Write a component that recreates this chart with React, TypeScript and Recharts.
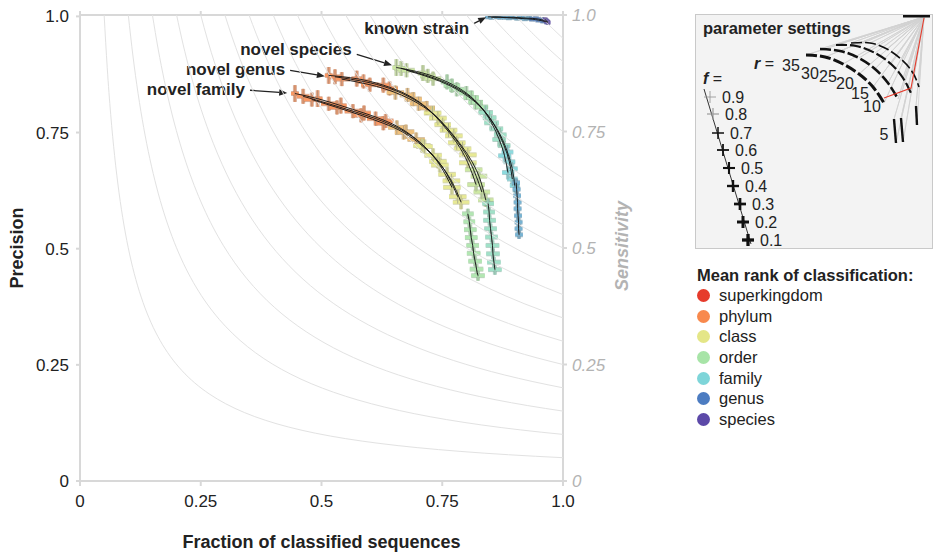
import React from 'react'
import { ScatterChart, Scatter, XAxis, YAxis, ErrorBar, ReferenceLine, Label } from 'recharts'

// Precision vs fraction classified, iso-sensitivity contours in the background.
// Each cluster = a few f-arcs (r runs along the arc) plus the separate r = 5 piece.

const FONT = '"Liberation Sans", Arial, Helvetica, sans-serif'
const TEXT = '#222'
const AXIS_GREY = '#d8d8d8'

const AXIS_TICKS = [0, 0.25, 0.5, 0.75, 1]
const SENSITIVITY_LEVELS = [
  0.05, 0.1, 0.15, 0.2, 0.25, 0.3, 0.35, 0.4, 0.45, 0.5,
  0.55, 0.6, 0.65, 0.7, 0.75, 0.8, 0.85, 0.9, 0.95,
]

const RANKS = ['superkingdom', 'phylum', 'class', 'order', 'family', 'genus', 'species']
const RANK_COLORS = ['#e63b2c', '#f8894d', '#e4e687', '#a7e4a7', '#7ed5d9', '#4c7cc1', '#5c49a8']

// [fraction classified, precision, x error, y error, mean rank (1..7)]
type Pt = [number, number, number, number, number]

const FAMILY_F09: Pt[] = [
  [0.445, 0.834, 0.008, 0.018, 2], [0.492, 0.823, 0.010, 0.018, 2], [0.540, 0.808, 0.012, 0.017, 2],
  [0.588, 0.792, 0.014, 0.016, 2], [0.633, 0.775, 0.016, 0.015, 2], [0.675, 0.752, 0.017, 0.015, 2.5],
  [0.713, 0.720, 0.017, 0.015, 3], [0.745, 0.680, 0.018, 0.015, 3], [0.770, 0.632, 0.018, 0.015, 3],
]
const FAMILY_F05: Pt[] = [
  [0.462, 0.828, 0.013, 0.016, 2], [0.515, 0.812, 0.016, 0.015, 2], [0.565, 0.796, 0.017, 0.015, 2],
  [0.612, 0.780, 0.018, 0.015, 2], [0.656, 0.761, 0.018, 0.015, 2.5], [0.696, 0.735, 0.018, 0.015, 2.5],
  [0.731, 0.701, 0.018, 0.015, 3], [0.760, 0.660, 0.018, 0.015, 3], [0.782, 0.612, 0.018, 0.015, 3],
]
const FAMILY_F01: Pt[] = [
  [0.480, 0.821, 0.017, 0.015, 2], [0.532, 0.804, 0.018, 0.015, 2], [0.582, 0.787, 0.018, 0.015, 2],
  [0.628, 0.770, 0.018, 0.015, 2], [0.670, 0.750, 0.018, 0.015, 2.5], [0.708, 0.722, 0.018, 0.015, 3],
  [0.741, 0.688, 0.018, 0.015, 3], [0.769, 0.646, 0.018, 0.015, 3], [0.789, 0.600, 0.017, 0.015, 3],
]
const FAMILY_R5: Pt[] = [
  [0.803, 0.575, 0.012, 0.011, 4], [0.806, 0.558, 0.012, 0.011, 4], [0.808, 0.541, 0.013, 0.011, 4],
  [0.810, 0.524, 0.013, 0.011, 4], [0.813, 0.507, 0.013, 0.011, 4], [0.815, 0.490, 0.014, 0.011, 4],
  [0.818, 0.473, 0.014, 0.011, 4], [0.821, 0.456, 0.014, 0.011, 4], [0.824, 0.442, 0.014, 0.011, 4],
]

const GENUS_F09: Pt[] = [
  [0.515, 0.873, 0.008, 0.018, 2], [0.573, 0.866, 0.011, 0.017, 2], [0.628, 0.852, 0.013, 0.016, 2],
  [0.678, 0.831, 0.016, 0.015, 2.5], [0.718, 0.803, 0.017, 0.015, 2.5], [0.751, 0.767, 0.017, 0.015, 3],
  [0.780, 0.728, 0.018, 0.015, 3], [0.803, 0.685, 0.018, 0.015, 3], [0.820, 0.638, 0.018, 0.015, 3.5],
]
const GENUS_F05: Pt[] = [
  [0.528, 0.870, 0.014, 0.016, 2], [0.587, 0.860, 0.016, 0.015, 2], [0.641, 0.845, 0.017, 0.015, 2],
  [0.690, 0.822, 0.018, 0.015, 2.5], [0.730, 0.792, 0.018, 0.015, 3], [0.763, 0.755, 0.018, 0.015, 3],
  [0.792, 0.715, 0.018, 0.015, 3], [0.815, 0.670, 0.018, 0.015, 3.5], [0.832, 0.622, 0.017, 0.015, 3.5],
]
const GENUS_F01: Pt[] = [
  [0.542, 0.865, 0.017, 0.015, 2], [0.600, 0.853, 0.018, 0.015, 2], [0.653, 0.836, 0.018, 0.015, 2.5],
  [0.701, 0.812, 0.018, 0.015, 2.5], [0.741, 0.781, 0.018, 0.015, 3], [0.774, 0.743, 0.018, 0.015, 3],
  [0.803, 0.702, 0.018, 0.015, 3], [0.826, 0.656, 0.017, 0.015, 3.5], [0.840, 0.605, 0.016, 0.015, 3.5],
]
const GENUS_R5: Pt[] = [
  [0.845, 0.597, 0.012, 0.011, 4.5], [0.847, 0.579, 0.012, 0.011, 4.5], [0.848, 0.561, 0.013, 0.011, 4.5],
  [0.850, 0.543, 0.013, 0.011, 4.5], [0.852, 0.525, 0.013, 0.011, 4.5], [0.854, 0.507, 0.014, 0.011, 4.5],
  [0.855, 0.489, 0.014, 0.011, 4.5], [0.857, 0.471, 0.014, 0.011, 4.5], [0.859, 0.455, 0.014, 0.011, 4.5],
]

const SPECIES_F09: Pt[] = [
  [0.655, 0.890, 0.008, 0.018, 3.5], [0.710, 0.878, 0.011, 0.017, 3.5], [0.760, 0.859, 0.013, 0.016, 4],
  [0.800, 0.835, 0.015, 0.015, 4], [0.830, 0.805, 0.015, 0.015, 4], [0.852, 0.771, 0.015, 0.015, 4.5],
  [0.868, 0.735, 0.014, 0.015, 4.5], [0.879, 0.700, 0.013, 0.015, 5], [0.886, 0.664, 0.012, 0.015, 5],
]
const SPECIES_F05: Pt[] = [
  [0.665, 0.888, 0.014, 0.016, 3.5], [0.720, 0.872, 0.016, 0.015, 3.5], [0.770, 0.851, 0.017, 0.015, 4],
  [0.810, 0.825, 0.016, 0.015, 4], [0.840, 0.793, 0.015, 0.015, 4.5], [0.862, 0.758, 0.014, 0.015, 4.5],
  [0.878, 0.722, 0.013, 0.015, 4.5], [0.889, 0.687, 0.012, 0.015, 5], [0.895, 0.650, 0.011, 0.015, 5],
]
const SPECIES_F01: Pt[] = [
  [0.676, 0.884, 0.017, 0.015, 3.5], [0.731, 0.866, 0.017, 0.015, 3.5], [0.780, 0.843, 0.016, 0.015, 4],
  [0.819, 0.815, 0.015, 0.015, 4], [0.848, 0.782, 0.014, 0.015, 4.5], [0.870, 0.745, 0.013, 0.015, 4.5],
  [0.885, 0.708, 0.012, 0.015, 5], [0.895, 0.672, 0.011, 0.015, 5], [0.900, 0.636, 0.010, 0.015, 5],
]
const SPECIES_R5: Pt[] = [
  [0.903, 0.642, 0.008, 0.009, 5.5], [0.904, 0.628, 0.008, 0.009, 5.5], [0.905, 0.614, 0.008, 0.009, 5.5],
  [0.906, 0.600, 0.008, 0.009, 5.5], [0.906, 0.586, 0.008, 0.009, 5.5], [0.907, 0.571, 0.008, 0.009, 5.5],
  [0.908, 0.557, 0.008, 0.009, 5.5], [0.908, 0.543, 0.008, 0.009, 5.5], [0.909, 0.530, 0.008, 0.009, 5.5],
]

const KNOWN_F09: Pt[] = [
  [0.845, 0.999, 0.006, 0.004, 5.5], [0.862, 0.999, 0.006, 0.004, 5.5], [0.880, 0.998, 0.006, 0.004, 5.5],
  [0.897, 0.998, 0.006, 0.004, 5.5], [0.914, 0.997, 0.006, 0.004, 5.5], [0.930, 0.996, 0.006, 0.004, 5.5],
  [0.944, 0.995, 0.006, 0.004, 6], [0.955, 0.993, 0.006, 0.004, 6], [0.962, 0.991, 0.006, 0.004, 6],
]
const KNOWN_F01: Pt[] = [
  [0.852, 0.998, 0.006, 0.004, 5.5], [0.870, 0.998, 0.006, 0.004, 5.5], [0.888, 0.997, 0.006, 0.004, 5.5],
  [0.905, 0.996, 0.006, 0.004, 5.5], [0.921, 0.995, 0.006, 0.004, 5.5], [0.936, 0.994, 0.006, 0.004, 6],
  [0.949, 0.992, 0.006, 0.004, 6], [0.959, 0.990, 0.006, 0.004, 6], [0.967, 0.988, 0.006, 0.004, 6],
]
const KNOWN_R5: Pt[] = [
  [0.963, 0.993, 0.005, 0.004, 7], [0.966, 0.990, 0.005, 0.004, 7], [0.969, 0.987, 0.005, 0.004, 7],
]

const SERIES_SETS: Pt[][] = [
  FAMILY_F09, FAMILY_F05, FAMILY_F01, FAMILY_R5,
  GENUS_F09, GENUS_F05, GENUS_F01, GENUS_R5,
  SPECIES_F09, SPECIES_F05, SPECIES_F01, SPECIES_R5,
  KNOWN_F09, KNOWN_F01, KNOWN_R5,
]

// callouts: text, arrow tail, arrow head (data coords), text nudge in px
const CALLOUTS = [
  { text: 'known strain', from: [0.816, 0.985], to: [0.841, 0.998], dy: 5 },
  { text: 'novel species', from: [0.573, 0.918], to: [0.646, 0.895], dy: -5 },
  { text: 'novel genus', from: [0.435, 0.884], to: [0.507, 0.871], dy: -1 },
  { text: 'novel family', from: [0.352, 0.841], to: [0.429, 0.835], dy: -1 },
]

// ---- inset "parameter settings" (its own unit box, y down) ----
const INSET_APEX: [number, number] = [228, 2]
const INSET_TOP_DASH: [number, number][] = [[207, 1], [234, 1]]
const INSET_ARC_F07: [number, number][] = [[155, 28], [174, 28], [191, 34], [206, 45], [217, 58], [223, 72]]
const INSET_ARC_F05: [number, number][] = [[140, 30], [160, 31], [179, 38], [195, 49], [207, 63], [215, 78]]
const INSET_ARC_F03: [number, number][] = [[124, 34], [144, 36], [163, 43], [179, 54], [192, 68], [202, 84]]
const INSET_ARC_F01: [number, number][] = [[110, 40], [129, 42], [147, 49], [163, 59], [177, 72], [188, 88]]
const INSET_R5: [number, number][][] = [
  [[198, 104], [200, 128]],
  [[205, 103], [207, 127]],
  [[220, 91], [221, 110]],
]
const INSET_RED: [number, number][] = [[228, 3], [215, 73], [188, 83]]
const F_VALUES = [0.9, 0.8, 0.7, 0.6, 0.5, 0.4, 0.3, 0.2, 0.1]
const F_MARKS: [number, number][] = [
  [14, 82], [17, 99], [22, 118], [27, 135], [33, 153], [37, 171], [44, 189], [47, 207], [52, 225],
]
const F_LINE: [number, number][] = [[8, 74], [55, 229]]
const R_LABELS = ['35', '30', '25', '20', '15', '10', '5']
const R_LABEL_POS: [number, number][] = [
  [95, 50], [114, 58], [132, 61], [149, 68], [164, 78], [176, 91], [188, 119],
]

// ---- helpers ----
function hexToRgb(h: string) {
  const n = parseInt(h.slice(1), 16)
  return [(n >> 16) & 255, (n >> 8) & 255, n & 255]
}
function mix(a: string, b: string, t: number) {
  const A = hexToRgb(a)
  const B = hexToRgb(b)
  const c = A.map((v, i) => Math.round(v + (B[i] - v) * t))
  return '#' + c.map((v) => v.toString(16).padStart(2, '0')).join('')
}
function rankColor(r: number) {
  const i = Math.floor(r - 1)
  const t = r - 1 - i
  if (t === 0) return RANK_COLORS[i]
  return mix(RANK_COLORS[i], RANK_COLORS[i + 1], t)
}
const fmtTick = (v: number) => (v === 0 ? '0' : v === 1 ? '1.0' : String(v))

const toPts = (set: Pt[]) => set.map(([x, y, ex, ey, rank]) => ({ x, y, ex, ey, rank }))
const toXY = (set: [number, number][]) => set.map(([x, y]) => ({ x, y }))

const crossPoints = SERIES_SETS.flatMap(toPts)
const rankBins = Array.from(new Set(crossPoints.map((p) => p.rank))).sort((a, b) => a - b)

// iso-sensitivity contours: precision = sensitivity / fraction
const isoCurves = SENSITIVITY_LEVELS.map((s) =>
  Array.from({ length: 26 }, (_, i) => {
    const x = s * Math.pow(1 / s, i / 25)
    return { x, y: s / x }
  })
)

const NoShape = () => <g />

function Callout(props: any) {
  const { x1, y1, x2, y2, text, dy } = props
  const dx = x2 - x1
  const dyv = y2 - y1
  const len = Math.hypot(dx, dyv) || 1
  const ux = dx / len
  const uy = dyv / len
  const hl = 8
  const hw = 3.2
  const bx = x2 - ux * hl
  const by = y2 - uy * hl
  return (
    <g>
      <line x1={x1} y1={y1} x2={bx} y2={by} stroke="#222" strokeWidth={1.3} />
      <polygon
        points={`${x2},${y2} ${bx - uy * hw},${by + ux * hw} ${bx + uy * hw},${by - ux * hw}`}
        fill="#222"
      />
      <text
        x={x1 - 5}
        y={y1 + dy}
        textAnchor="end"
        dominantBaseline="central"
        fontWeight="bold"
        fontSize={17}
        fontFamily={FONT}
        fill={TEXT}
      >
        {text}
      </text>
    </g>
  )
}

function MainChart() {
  const tickStyle = { fontSize: 17, fill: TEXT, fontFamily: FONT }
  const greyTick = { fontSize: 17, fill: '#b3b3b3', fontFamily: FONT, fontStyle: 'italic' as const }
  const axisLine = { stroke: AXIS_GREY, strokeWidth: 2 }
  return (
    <ScatterChart width={650} height={554} margin={{ top: 14, right: 0, bottom: 0, left: 0 }}>
      <XAxis
        type="number"
        dataKey="x"
        domain={[0, 1]}
        ticks={AXIS_TICKS}
        tickFormatter={fmtTick}
        height={73}
        tick={tickStyle}
        axisLine={axisLine}
        tickLine={axisLine}
        tickSize={5}
        tickMargin={9}
      >
        <Label
          content={(p: any) => {
            const vb = p.viewBox
            return (
              <text
                x={vb.x + vb.width / 2}
                y={vb.y + 61}
                textAnchor="middle"
                dominantBaseline="central"
                fontWeight="bold"
                fontSize={18}
                fontFamily={FONT}
                fill={TEXT}
              >
                Fraction of classified sequences
              </text>
            )
          }}
        />
      </XAxis>
      <XAxis
        xAxisId="top"
        orientation="top"
        type="number"
        dataKey="x"
        domain={[0, 1]}
        ticks={AXIS_TICKS}
        tickFormatter={() => ''}
        height={1}
        axisLine={axisLine}
        tickLine={axisLine}
        tickSize={4}
      />
      <YAxis
        type="number"
        dataKey="y"
        domain={[0, 1]}
        ticks={AXIS_TICKS}
        tickFormatter={fmtTick}
        width={80}
        tick={tickStyle}
        axisLine={axisLine}
        tickLine={axisLine}
        tickSize={4}
        tickMargin={7}
      >
        <Label
          content={(p: any) => {
            const vb = p.viewBox
            const cy = vb.y + vb.height / 2
            return (
              <text
                x={vb.x + 17}
                y={cy}
                transform={`rotate(-90 ${vb.x + 17} ${cy})`}
                textAnchor="middle"
                dominantBaseline="central"
                fontWeight="bold"
                fontSize={18}
                fontFamily={FONT}
                fill={TEXT}
              >
                Precision
              </text>
            )
          }}
        />
      </YAxis>
      <YAxis
        yAxisId="right"
        orientation="right"
        type="number"
        dataKey="y"
        domain={[0, 1]}
        ticks={AXIS_TICKS}
        tickFormatter={fmtTick}
        width={87}
        tick={greyTick}
        axisLine={axisLine}
        tickLine={axisLine}
        tickSize={4}
        tickMargin={5}
      >
        <Label
          content={(p: any) => {
            const vb = p.viewBox
            const cy = vb.y + vb.height / 2 - 2
            const cx = vb.x + 59
            return (
              <text
                x={cx}
                y={cy}
                transform={`rotate(-90 ${cx} ${cy})`}
                textAnchor="middle"
                dominantBaseline="central"
                fontWeight="bold"
                fontStyle="italic"
                fontSize={18}
                fontFamily={FONT}
                fill="#b3b3b3"
              >
                Sensitivity
              </text>
            )
          }}
        />
      </YAxis>

      {/* contours live on the top / right (sensitivity) axes, same 0..1 scale */}
      {isoCurves.map((c, i) => (
        <Scatter
          key={`iso-${i}`}
          xAxisId="top"
          yAxisId="right"
          data={c}
          shape={NoShape}
          line={{ stroke: '#e2e2e2', strokeWidth: 1 }}
          lineJointType="monotoneX"
          isAnimationActive={false}
        />
      ))}

      {rankBins.map((r) => {
        const base = rankColor(r)
        const color = mix(base, '#ffffff', 0.12)
        const edge = mix(base, '#4a4a4a', 0.35)
        return (
          <Scatter
            key={`rank-${r}`}
            data={crossPoints.filter((p) => p.rank === r)}
            shape={NoShape}
            isAnimationActive={false}
          >
            <ErrorBar dataKey="ex" direction="x" width={0} stroke={edge} strokeWidth={5} strokeOpacity={0.55} isAnimationActive={false} />
            <ErrorBar dataKey="ey" direction="y" width={0} stroke={edge} strokeWidth={4} strokeOpacity={0.55} isAnimationActive={false} />
            <ErrorBar dataKey="ex" direction="x" width={0} stroke={color} strokeWidth={3} isAnimationActive={false} />
            <ErrorBar dataKey="ey" direction="y" width={0} stroke={color} strokeWidth={2} isAnimationActive={false} />
            <ErrorBar dataKey="ey" direction="y" width={0} stroke="#888" strokeWidth={0.6} isAnimationActive={false} />
          </Scatter>
        )
      })}

      {SERIES_SETS.map((s, i) => (
        <Scatter
          key={`arc-${i}`}
          data={toPts(s)}
          shape={NoShape}
          line={{ stroke: '#111', strokeWidth: 0.9 }}
          lineJointType="natural"
          isAnimationActive={false}
        />
      ))}

      {CALLOUTS.map((c) => (
        <ReferenceLine
          key={c.text}
          segment={[
            { x: c.from[0], y: c.from[1] },
            { x: c.to[0], y: c.to[1] },
          ]}
          shape={(p: any) => <Callout {...p} text={c.text} dy={c.dy} />}
        />
      ))}
    </ScatterChart>
  )
}

function FCross(props: any) {
  const { cx, cy, payload } = props
  const f = payload.f
  const w = 0.6 + (1 - f) * 3
  const c = f >= 0.8 ? '#9a9a9a' : '#111'
  return (
    <g>
      <line x1={cx - 6} x2={cx + 6} y1={cy} y2={cy} stroke={c} strokeWidth={w} />
      <line x1={cx} x2={cx} y1={cy - 6} y2={cy + 6} stroke={c} strokeWidth={w} />
      <text x={cx + 12} y={cy} dominantBaseline="central" fontSize={16} fontFamily={FONT} fill={TEXT}>
        {f.toFixed(1)}
      </text>
    </g>
  )
}

function RText(props: any) {
  const { cx, cy, payload } = props
  return (
    <text x={cx} y={cy} textAnchor="middle" dominantBaseline="central" fontSize={16} fontFamily={FONT} fill={TEXT}>
      {payload.label}
    </text>
  )
}

function InsetChart() {
  const arcs = [
    { d: INSET_ARC_F07, w: 1.6 },
    { d: INSET_ARC_F05, w: 2.2 },
    { d: INSET_ARC_F03, w: 2.6 },
    { d: INSET_ARC_F01, w: 3 },
  ]
  const fanPoints = [
    ...INSET_ARC_F07, ...INSET_ARC_F05, ...INSET_ARC_F03, ...INSET_ARC_F01, ...INSET_R5.flat(),
  ].flatMap((p) => [{ x: INSET_APEX[0], y: INSET_APEX[1] }, { x: p[0], y: p[1] }])
  const fMarks = F_MARKS.map(([x, y], i) => ({ x, y, f: F_VALUES[i] }))
  const rLabels = R_LABEL_POS.map(([x, y], i) => ({ x, y, label: R_LABELS[i] }))
  return (
    <ScatterChart width={235} height={232} margin={{ top: 0, right: 0, bottom: 0, left: 0 }}>
      <XAxis type="number" dataKey="x" domain={[0, 235]} hide />
      <YAxis type="number" dataKey="y" domain={[0, 232]} reversed hide />
      <Scatter
        data={fanPoints}
        shape={NoShape}
        line={{ stroke: '#d2d2d2', strokeWidth: 0.8 }}
        isAnimationActive={false}
      />
      {arcs.map((a, i) => (
        <Scatter
          key={`iarc-${i}`}
          data={toXY(a.d)}
          shape={NoShape}
          line={{ stroke: '#111', strokeWidth: a.w, strokeDasharray: '11 3' }}
          lineJointType="natural"
          isAnimationActive={false}
        />
      ))}
      {INSET_R5.map((seg, i) => (
        <Scatter
          key={`ir5-${i}`}
          data={toXY(seg)}
          shape={NoShape}
          line={{ stroke: '#111', strokeWidth: 2.4 }}
          isAnimationActive={false}
        />
      ))}
      <Scatter data={toXY(INSET_RED)} shape={NoShape} line={{ stroke: '#e63b2c', strokeWidth: 1.1 }} isAnimationActive={false} />
      <Scatter data={toXY(INSET_TOP_DASH)} shape={NoShape} line={{ stroke: '#111', strokeWidth: 3 }} isAnimationActive={false} />
      <Scatter data={toXY(F_LINE)} shape={NoShape} line={{ stroke: '#333', strokeWidth: 1 }} isAnimationActive={false} />
      <Scatter data={fMarks} shape={FCross} isAnimationActive={false} />
      <Scatter data={rLabels} shape={RText} isAnimationActive={false} />
    </ScatterChart>
  )
}

function RankLegend() {
  return (
    <div style={{ position: 'absolute', left: 697, top: 265, fontFamily: FONT, color: TEXT }}>
      <div style={{ fontWeight: 'bold', fontSize: 16.5, lineHeight: '20px' }}>Mean rank of classification:</div>
      {RANKS.map((r, i) => (
        <div key={r} style={{ display: 'flex', alignItems: 'center', height: 20.7, fontSize: 16.5 }}>
          <span
            style={{
              width: 13,
              height: 13,
              borderRadius: '50%',
              background: RANK_COLORS[i],
              display: 'inline-block',
              marginRight: 9,
            }}
          />
          <span>{r}</span>
        </div>
      ))}
    </div>
  )
}

export default function App() {
  return (
    <div
      style={{
        position: 'absolute',
        left: 0,
        top: 0,
        width: 935,
        height: 554,
        background: '#fff',
        fontFamily: FONT,
        overflow: 'hidden',
      }}
    >
      <div style={{ position: 'absolute', left: 0, top: 0 }}>
        <MainChart />
      </div>
      <div
        style={{
          position: 'absolute',
          left: 695,
          top: 14,
          width: 238,
          height: 235,
          boxSizing: 'border-box',
          background: '#f3f3f3',
          border: '1.5px solid #c9c9c9',
        }}
      >
        <InsetChart />
        <div style={{ position: 'absolute', left: 7, top: 4, fontWeight: 'bold', fontSize: 16.5, color: TEXT }}>
          parameter settings
        </div>
        <div style={{ position: 'absolute', left: 58, top: 40, fontSize: 16, color: TEXT }}>
          <b>
            <i>r</i>
          </b>{' '}
          =
        </div>
        <div style={{ position: 'absolute', left: 7, top: 55, fontSize: 16, color: TEXT }}>
          <b>
            <i>f</i>
          </b>{' '}
          =
        </div>
      </div>
      <RankLegend />
    </div>
  )
}
